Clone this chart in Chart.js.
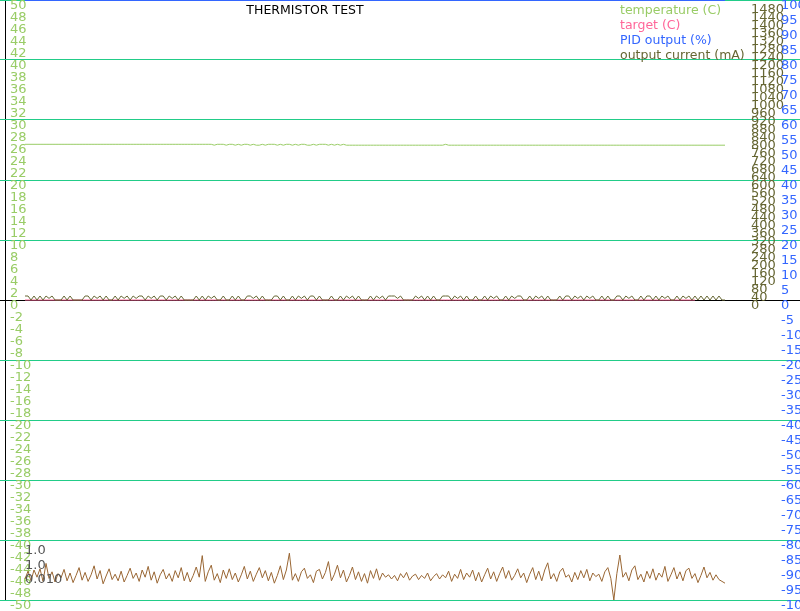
<!DOCTYPE html>
<html>
<head>
<meta charset="utf-8">
<script src="https://cdn.jsdelivr.net/npm/chart.js@4"></script>
<style>
  body { margin: 0; background: #fff; }
  canvas { display: block; }
</style>
</head>
<body>
<canvas id="plot" width="800" height="611"></canvas>
<script>
// readings, one per sample
var temperature = [
  25.95,25.95,25.95,25.95,25.95,25.95,25.95,25.95,25.95,25.95,
  25.95,25.95,25.95,25.95,25.95,25.95,25.95,25.95,25.95,25.95,
  25.95,25.95,25.95,25.95,25.95,25.95,25.95,25.95,25.95,25.95,
  25.95,25.95,25.95,25.95,25.95,25.95,25.95,25.95,25.95,25.95,
  25.95,25.95,25.95,25.95,25.95,25.95,25.95,25.95,25.95,25.95,
  25.95,25.95,25.95,25.95,25.95,25.95,25.95,25.95,25.95,25.95,
  25.95,25.95,25.95,25.8,25.95,25.95,25.95,25.8,25.95,25.95,
  25.8,25.95,25.8,25.95,25.95,25.8,25.95,25.8,25.8,25.95,
  25.8,25.95,25.95,25.95,25.8,25.95,25.8,25.95,25.95,25.8,
  25.95,25.8,25.95,25.95,25.8,25.8,25.95,25.8,25.95,25.95,
  25.95,25.8,25.95,25.8,25.95,25.8,25.95,25.8,25.8,25.8,
  25.8,25.8,25.8,25.8,25.8,25.8,25.8,25.8,25.8,25.8,
  25.8,25.8,25.8,25.8,25.8,25.8,25.8,25.8,25.8,25.8,
  25.8,25.8,25.8,25.8,25.8,25.8,25.8,25.8,25.8,25.8,
  25.95,25.8,25.8,25.8,25.8,25.8,25.8,25.8,25.8,25.8,
  25.8,25.8,25.8,25.8,25.8,25.8,25.8,25.8,25.8,25.8,
  25.8,25.8,25.8,25.8,25.8,25.8,25.8,25.8,25.8,25.8,
  25.8,25.8,25.8,25.8,25.8,25.8,25.8,25.8,25.8,25.8,
  25.8,25.8,25.8,25.8,25.8,25.8,25.8,25.8,25.8,25.8,
  25.8,25.8,25.8,25.8,25.8,25.8,25.8,25.8,25.8,25.8,
  25.8,25.8,25.8,25.8,25.8,25.8,25.8,25.8,25.8,25.8,
  25.8,25.8,25.8,25.8,25.8,25.8,25.8,25.8,25.8,25.8,
  25.8,25.8,25.8,25.8,25.8,25.8,25.8,25.8,25.8,25.8,
  25.8,25.8,25.8,25.8
];
var target = [
  0,0,0,0,0,0,0,0,0,0, 0,0,0,0,0,0,0,0,0,0, 0,0,0,0,0,0,0,0,0,0,
  0,0,0,0,0,0,0,0,0,0, 0,0,0,0,0,0,0,0,0,0, 0,0,0,0,0,0,0,0,0,0,
  0,0,0,0,0,0,0,0,0,0, 0,0,0,0,0,0,0,0,0,0, 0,0,0,0,0,0,0,0,0,0,
  0,0,0,0,0,0,0,0,0,0, 0,0,0,0,0,0,0,0,0,0, 0,0,0,0,0,0,0,0,0,0,
  0,0,0,0,0,0,0,0,0,0, 0,0,0,0,0,0,0,0,0,0, 0,0,0,0,0,0,0,0,0,0,
  0,0,0,0,0,0,0,0,0,0, 0,0,0,0,0,0,0,0,0,0, 0,0,0,0,0,0,0,0,0,0,
  0,0,0,0,0,0,0,0,0,0, 0,0,0,0,0,0,0,0,0,0, 0,0,0,0,0,0,0,0,0,0,
  0,0,0,0,0,0,0,0,0,0, 0,0,0,0
];
var pidOutput = [
  100,100,100,100,100,100,100,100,100,100, 100,100,100,100,100,100,100,100,100,100,
  100,100,100,100,100,100,100,100,100,100, 100,100,100,100,100,100,100,100,100,100,
  100,100,100,100,100,100,100,100,100,100, 100,100,100,100,100,100,100,100,100,100,
  100,100,100,100,100,100,100,100,100,100, 100,100,100,100,100,100,100,100,100,100,
  100,100,100,100,100,100,100,100,100,100, 100,100,100,100,100,100,100,100,100,100,
  100,100,100,100,100,100,100,100,100,100, 100,100,100,100,100,100,100,100,100,100,
  100,100,100,100,100,100,100,100,100,100, 100,100,100,100,100,100,100,100,100,100,
  100,100,100,100,100,100,100,100,100,100, 100,100,100,100,100,100,100,100,100,100,
  100,100,100,100,100,100,100,100,100,100, 100,100,100,100,100,100,100,100,100,100,
  100,100,100,100,100,100,100,100,100,100, 100,100,100,100,100,100,100,100,100,100,
  100,100,100,100,100,100,100,100,100,100, 100,100,100,100,100,100,100,100,100,100,
  100,100,100,100,100,100,100,100,100,100, 100,100,100,100
];
var outputCurrent = [
  20,20,0,20,0,20,0,20,8,20,  0,0,0,20,0,20,0,0,0,0,
  20,20,0,20,8,20,0,20,0,0,   20,0,20,8,20,0,20,8,20,20,
  0,20,8,20,0,20,20,0,20,8,   20,0,20,0,0,0,0,20,0,20,
  0,20,8,20,0,0,20,0,0,20,    0,20,0,0,20,20,8,20,0,20,
  0,0,0,20,20,0,20,0,0,20,    0,20,8,20,0,20,20,0,20,0,
  0,0,20,0,0,20,0,20,8,20,    0,20,0,0,0,20,0,20,8,20,
  0,20,20,20,8,20,0,0,0,0,    20,8,20,0,20,0,20,0,0,20,
  20,20,0,20,8,20,0,20,0,0,   20,0,0,20,0,20,8,20,0,0,
  20,0,20,8,20,20,0,0,20,0,   20,8,20,0,20,0,0,0,20,0,
  20,20,0,20,8,20,0,20,8,20,  0,0,20,0,20,0,0,20,20,0,
  20,8,20,0,0,20,0,20,20,0,   20,0,20,8,20,0,0,20,0,20,
  8,20,0,20,0,20,0,20,0,20,   0,20,0,0
];
// unlabelled trace along the bottom (read on the temperature scale)
var sensorNoise = [
  -46.5,-45.2,-46.8,-45.0,-46.2,-44.8,-46.9,-43.9,-46.4,-45.3,
  -47.0,-45.6,-46.3,-44.9,-46.8,-45.5,-47.1,-45.9,-44.6,-46.7,
  -45.4,-46.9,-45.8,-44.3,-46.5,-45.1,-47.3,-46.0,-44.8,-46.6,
  -45.7,-46.8,-45.2,-47.0,-45.9,-44.7,-46.4,-45.5,-46.9,-45.0,
  -46.2,-44.4,-46.7,-45.3,-47.2,-45.8,-44.9,-46.5,-45.6,-46.9,
  -45.1,-46.3,-44.6,-46.8,-45.4,-47.0,-45.9,-44.5,-46.2,-42.6,
  -46.9,-45.3,-44.2,-46.7,-45.6,-47.1,-45.0,-46.4,-44.8,-46.6,
  -45.5,-47.0,-45.8,-44.4,-46.5,-45.2,-46.9,-45.7,-44.6,-46.3,
  -45.1,-46.8,-45.4,-47.2,-45.9,-44.3,-46.6,-45.0,-42.2,-46.7,
  -45.6,-46.9,-45.3,-44.7,-46.4,-45.8,-47.1,-45.2,-44.9,-46.5,
  -45.4,-43.6,-46.8,-45.7,-44.2,-46.3,-45.0,-47.0,-45.9,-44.5,
  -46.6,-45.3,-46.9,-45.6,-47.2,-45.1,-46.4,-44.8,-46.7,-45.5,
  -46.2,-45.8,-46.5,-45.9,-46.8,-45.6,-46.3,-45.4,-46.7,-46.0,
  -45.7,-46.6,-45.9,-46.4,-45.5,-46.8,-46.1,-45.6,-46.5,-45.8,
  -46.3,-45.2,-46.9,-45.7,-46.4,-44.9,-46.6,-45.5,-46.2,-45.0,
  -46.8,-45.4,-47.0,-45.8,-44.7,-46.5,-45.3,-46.9,-45.6,-44.5,
  -46.4,-45.1,-46.7,-45.9,-44.8,-46.3,-45.5,-47.1,-45.7,-44.6,
  -46.6,-45.2,-46.8,-45.0,-43.8,-46.5,-45.6,-46.9,-45.3,-44.7,
  -46.2,-45.8,-47.0,-45.4,-46.6,-45.1,-46.3,-44.9,-46.8,-45.5,
  -46.1,-45.7,-46.9,-45.3,-44.6,-46.4,-50.0,-45.6,-42.5,-46.2,
  -45.4,-46.8,-45.0,-44.3,-46.6,-45.7,-47.0,-45.2,-46.4,-44.8,
  -46.7,-45.5,-46.2,-44.4,-46.9,-45.8,-44.6,-46.5,-45.3,-46.8,
  -45.1,-44.7,-46.4,-45.6,-47.1,-45.9,-44.5,-46.3,-45.4,-46.7,
  -45.8,-46.6,-46.9,-47.2
];
var pidParams = ['1.0', '1.0', '0.010'];
var legendItems = ['temperature (C)', 'target (C)', 'PID output (%)', 'output current (mA)'];
var currentTickValues = [0,40,80,120,160,200,240,280,320,360,400,440,480,520,560,600,640,680,720,
  760,800,840,880,920,960,1000,1040,1080,1120,1160,1200,1240,1280,1320,1360,1400,1440,1480];

var GREEN = '#99cc66', PINK = '#ff6699', BLUE = '#3366ff', OLIVE = '#666633', BROWN = '#996633';
var TEAL = '#22cc88';
var FONT = {family: 'DejaVu Sans', size: 13};

var n = temperature.length;
var step = 700 / (n - 1);           // pixels per sample
var xMin = -25 / step, xMax = (n - 1) + 75 / step;

function pts(arr) { return arr.map((v, i) => ({x: i, y: v})); }
// axes sit inside the plot, so they must not take any room
function noRoom(s) {
  if (s.isHorizontal()) s.height = 0; else s.width = 0;
  s.paddingTop = s.paddingBottom = s.paddingLeft = s.paddingRight = 0;
}
function plain(v) { return String(v); }

var textPlugin = {
  id: 'texts',
  afterDraw(chart) {
    var c = chart.ctx;
    c.save();
    c.font = '12.5px "DejaVu Sans"';
    c.textBaseline = 'middle';
    c.textAlign = 'center';
    c.fillStyle = '#000';
    c.fillText('THERMISTOR TEST', 305, 11);
    c.textAlign = 'left';
    var cols = [GREEN, PINK, BLUE, OLIVE];
    legendItems.forEach((t, i) => { c.fillStyle = cols[i]; c.fillText(t, 620, 11 + i * 15); });
    c.font = '13px "DejaVu Sans"';
    c.fillStyle = '#555';
    pidParams.forEach((t, i) => c.fillText(t, 25, 551 + i * 14.5));
    c.restore();
  }
};

new Chart(document.getElementById('plot'), {
  type: 'line',
  data: {
    datasets: [
      {label: legendItems[3], data: pts(outputCurrent), borderColor: OLIVE, yAxisID: 'current'},
      {label: legendItems[1], data: pts(target), borderColor: PINK, yAxisID: 'temp'},
      {label: legendItems[0], data: pts(temperature), borderColor: GREEN, yAxisID: 'temp'},
      {label: legendItems[2], data: pts(pidOutput), borderColor: BLUE, borderWidth: 2, yAxisID: 'pid'},
      {label: 'noise', data: pts(sensorNoise), borderColor: BROWN, yAxisID: 'temp'}
    ]
  },
  options: {
    responsive: false,
    animation: false,
    layout: {padding: {left: 0, right: 0, top: 0, bottom: 11}},
    elements: {point: {radius: 0}, line: {borderWidth: 1, tension: 0}},
    plugins: {legend: {display: false}, tooltip: {enabled: false}},
    scales: {
      x: {
        type: 'linear', min: xMin, max: xMax,
        ticks: {display: false},
        grid: {color: '#000', drawTicks: false},
        border: {display: false},
        afterBuildTicks: s => { s.ticks = [{value: xMin + 5 / step}]; },
        afterFit: noRoom
      },
      temp: {
        position: 'left', min: -50, max: 50,
        ticks: {stepSize: 2, autoSkip: false, callback: plain, color: GREEN, font: FONT,
                mirror: true, padding: 10, crossAlign: 'near', labelOffset: 6},
        grid: {
          drawTicks: false,
          color: c => c.tick.value === 0 ? '#000' : (c.tick.value % 10 === 0 ? TEAL : 'rgba(0,0,0,0)')
        },
        border: {display: false},
        afterFit: noRoom
      },
      current: {
        position: 'left', min: -1500, max: 1500,
        afterBuildTicks: s => { s.ticks = currentTickValues.map(v => ({value: v})); },
        ticks: {autoSkip: false, callback: plain, color: OLIVE, font: FONT,
                mirror: true, padding: 751, crossAlign: 'near', labelOffset: 6},
        grid: {display: false},
        border: {display: false},
        afterFit: noRoom
      },
      pid: {
        position: 'left', min: -100, max: 100,
        ticks: {stepSize: 5, autoSkip: false, callback: plain, color: BLUE, font: FONT,
                mirror: true, padding: 781, crossAlign: 'near', labelOffset: 6},
        grid: {display: false},
        border: {display: false},
        afterFit: noRoom
      }
    }
  },
  plugins: [textPlugin]
});
</script>
</body>
</html>
